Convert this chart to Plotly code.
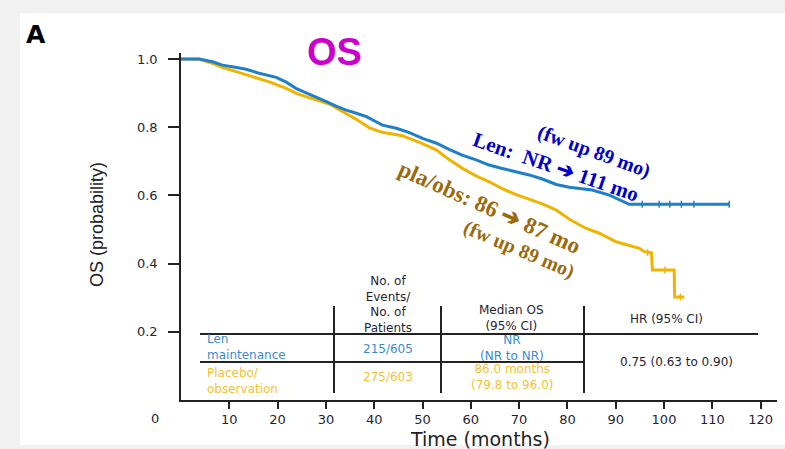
import plotly.graph_objects as go

# ---------------- data ----------------
months_len = [0, 3.8, 6.5, 8.6, 10.6, 13.5, 16.2, 19.7, 21.8, 23.8, 25.9, 28.0, 30.1,
              32.1, 34.2, 36.3, 38.4, 40.4, 41.7, 44.6, 47.3, 50.0, 52.9, 55.5, 58.2,
              61.1, 63.8, 66.5, 69.4, 72.1, 74.8, 77.7, 80.4, 82.5, 85.1, 88.7, 91.4,
              92.8, 100.0, 105.0, 110.0, 113.5]
surv_len = [1.0, 1.0, 0.992, 0.982, 0.977, 0.970, 0.958, 0.946, 0.932, 0.914, 0.901, 0.889,
            0.875, 0.862, 0.850, 0.841, 0.831, 0.816, 0.806, 0.797, 0.784, 0.767, 0.753,
            0.735, 0.718, 0.704, 0.689, 0.679, 0.670, 0.660, 0.648, 0.632, 0.624, 0.621,
            0.616, 0.601, 0.584, 0.574, 0.574, 0.574, 0.574, 0.574]

months_pla = [0, 3.8, 6.5, 8.6, 11.4, 14.8, 18.3, 21.8, 23.9, 26.0, 28.6, 31.0, 33.4, 36.3,
              39.0, 41.7, 45.8, 50.0, 52.9, 55.5, 58.2, 61.1, 63.8, 66.5, 69.4, 72.1, 74.8,
              77.7, 80.4, 83.9, 86.6, 90.1, 92.2, 94.9, 95.9, 97.4, 97.5, 97.6, 102.1,
              102.2, 104.2]
surv_pla = [1.0, 0.999, 0.987, 0.975, 0.963, 0.948, 0.933, 0.914, 0.899, 0.889, 0.877,
            0.866, 0.846, 0.823, 0.798, 0.785, 0.775, 0.752, 0.733, 0.705, 0.680, 0.657,
            0.640, 0.620, 0.602, 0.588, 0.575, 0.557, 0.530, 0.503, 0.489, 0.464, 0.455,
            0.445, 0.435, 0.432, 0.405, 0.381, 0.381, 0.302, 0.302]

censor_len_t = [95.5, 99.0, 101.2, 103.6, 106.2, 113.5]
censor_len_s = [0.574, 0.574, 0.574, 0.574, 0.574, 0.574]
censor_pla_t = [96.6, 97.5, 100.2, 103.4]
censor_pla_s = [0.432, 0.405, 0.381, 0.302]

x_ticks = [10, 20, 30, 40, 50, 60, 70, 80, 90, 100, 110, 120]
y_ticks = [0.2, 0.4, 0.6, 0.8, 1.0]
y_ticktext = ["0.2", "0.4", "0.6", "0.8", "1.0"]

header_events = ["No. of", "Events/", "No. of", "Patients"]
header_median = ["Median OS", "(95% CI)"]
header_hr = "HR (95% CI)"
row_len_label = ["Len", "maintenance"]
row_pla_label = ["Placebo/", "observation"]
row_len_events = "215/605"
row_pla_events = "275/603"
row_len_median = ["NR", "(NR to NR)"]
row_pla_median = ["86.0 months", "(79.8 to 96.0)"]
hr_value = "0.75 (0.63 to 0.90)"

# ---------------- styling ----------------
W, H = 785, 449
ML, MR, MT, MB = 181, 8, 53, 49
PW, PH = W - ML - MR, H - MT - MB
BLUE = "#1f80c8"
GOLD = "#f0b400"
TXT_BLUE = "#3a8ad2"
TXT_GOLD = "#f2c232"
DARK = "#1f1f33"
SANS = "DejaVu Sans, Verdana, sans-serif"
SERIF = "Liberation Serif, Times New Roman, serif"


def px(x):
    return (x - ML) / PW


def py(y):
    return (H - MB - y) / PH


fig = go.Figure()

fig.add_trace(go.Scatter(x=months_pla, y=surv_pla, mode="lines",
                         line=dict(color=GOLD, width=3), hoverinfo="skip",
                         showlegend=False))
fig.add_trace(go.Scatter(x=months_len, y=surv_len, mode="lines",
                         line=dict(color=BLUE, width=3), hoverinfo="skip",
                         showlegend=False))
fig.add_trace(go.Scatter(x=censor_pla_t, y=censor_pla_s, mode="markers",
                         marker=dict(symbol="line-ns", size=5,
                                     line=dict(color=GOLD, width=1.5)),
                         hoverinfo="skip", showlegend=False))
fig.add_trace(go.Scatter(x=censor_len_t, y=censor_len_s, mode="markers",
                         marker=dict(symbol="line-ns", size=5,
                                     line=dict(color=BLUE, width=1.5)),
                         hoverinfo="skip", showlegend=False))

ann = []


def text(t, x, y, size=12, color=DARK, anchor="center", family=SANS, angle=0, align="center"):
    ann.append(dict(text=t, x=px(x), y=py(y), xref="paper", yref="paper",
                    xanchor=anchor, yanchor="middle", showarrow=False, align=align,
                    textangle=angle, font=dict(family=family, size=size, color=color)))


# panel letter and title
text("<b>A</b>", 36, 35, size=25, color="#000000", family=SANS)
text("<b>OS</b>", 334, 52, size=38, color="#cc00cc", family="Liberation Sans, Arial, sans-serif")

# axis titles and corner zero
text("OS (probability)", 97, 225, size=18, color="#222222",
     family="Liberation Sans Narrow, Arial Narrow, Liberation Sans, sans-serif", angle=-90)
text("Time (months)", 480, 439, size=19, color="#222222")
text("0", 155, 418, size=13, color=DARK)

# rotated follow-up notes
text("<b>(fw up 89 mo)</b>", 594, 151, size=20, color="#0000cc", family=SERIF, angle=20)
text("<b>Len:\u00a0 NR \u2794 111 mo</b>", 556, 167, size=21, color="#0000cc", family=SERIF, angle=19)
text("<b>pla/obs: 86 \u2794 87 mo</b>", 489, 208, size=23, color="#9c6a0c", family=SERIF, angle=24)
text("<b>(fw up 89 mo)</b>", 519, 249, size=20, color="#9c6a0c", family=SERIF, angle=23)

# table text
text("<br>".join(header_events), 388, 304.5)
text("<br>".join(header_median), 512, 318)
text(header_hr, 666, 319)
text("<br>".join(row_len_label), 205, 347, color=TXT_BLUE, anchor="left", align="left")
text("<br>".join(row_pla_label), 205, 380.5, color=TXT_GOLD, anchor="left", align="left")
text(row_len_events, 388, 349, color=TXT_BLUE)
text(row_pla_events, 388, 377, color=TXT_GOLD)
text("<br>".join(row_len_median), 512, 347.5, color=TXT_BLUE)
text("<br>".join(row_pla_median), 512, 377, color=TXT_GOLD)
text(hr_value, 676, 362)

shapes = [
    # white panel on light gray page
    dict(type="rect", xref="paper", yref="paper", x0=px(20), x1=px(790), y0=py(445), y1=py(13),
         fillcolor="white", line=dict(width=0), layer="below"),
]


def hline(x0, x1, y):
    shapes.append(dict(type="line", xref="paper", yref="paper", x0=px(x0), x1=px(x1),
                       y0=py(y), y1=py(y), line=dict(color="#222222", width=2)))


def vline(x, y0, y1):
    shapes.append(dict(type="line", xref="paper", yref="paper", x0=px(x), x1=px(x),
                       y0=py(y0), y1=py(y1), line=dict(color="#222222", width=2)))


hline(200, 758, 334)
hline(200, 584, 362)
vline(334, 306, 393)
vline(441, 306, 393)
vline(584, 306, 393)

fig.update_layout(
    width=W, height=H,
    margin=dict(l=ML, r=MR, t=MT, b=MB),
    paper_bgcolor="#f1f1f1",
    plot_bgcolor="rgba(0,0,0,0)",
    showlegend=False,
    annotations=ann,
    shapes=shapes,
    xaxis=dict(range=[0, PW / 4.83], tickvals=x_ticks, ticks="outside", ticklen=7,
               tickwidth=1.5, tickcolor="#222222", showline=True, linecolor="#222222",
               linewidth=1.5, showgrid=False, zeroline=False, fixedrange=True,
               tickfont=dict(family=SANS, size=13, color=DARK)),
    yaxis=dict(range=[0, PH / 341.0], tickvals=y_ticks, ticktext=y_ticktext,
               ticks="outside", ticklen=11, tickwidth=1.5, tickcolor="#222222",
               showline=True, linecolor="#222222", linewidth=1.5, showgrid=False,
               zeroline=False, fixedrange=True, ticklabelstandoff=8,
               tickfont=dict(family=SANS, size=13, color=DARK)),
)

fig.write_html("out.html")
